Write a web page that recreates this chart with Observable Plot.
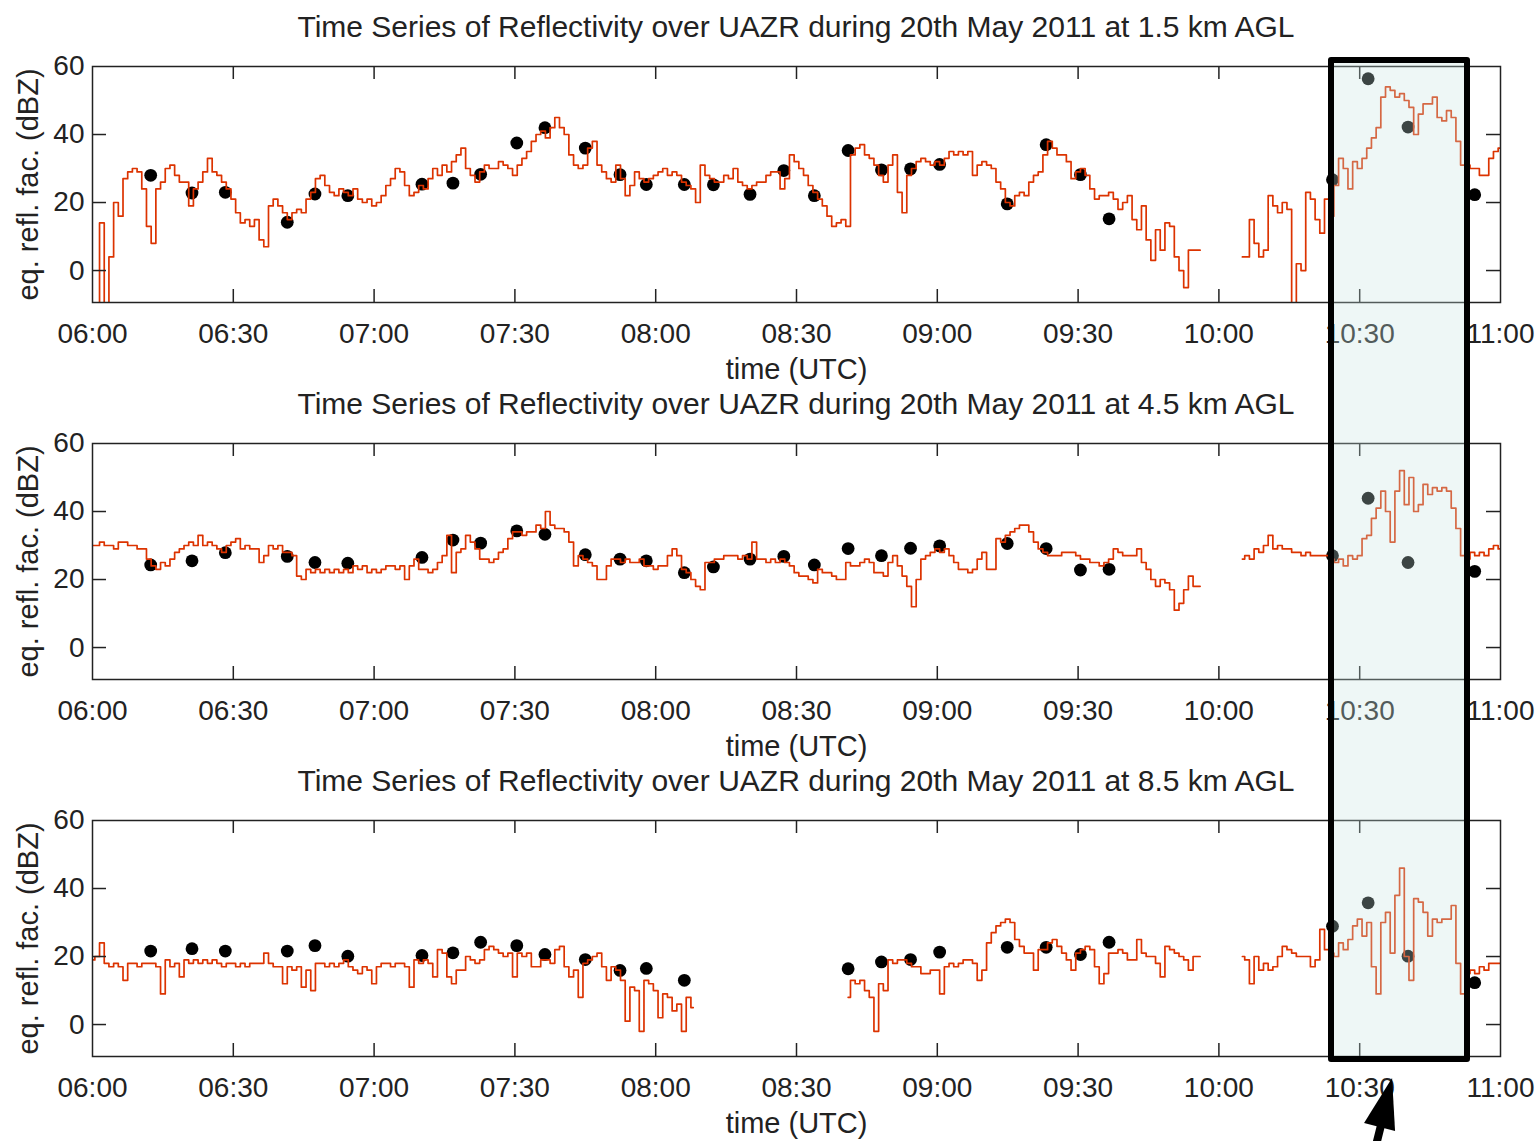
<!DOCTYPE html>
<html><head><meta charset="utf-8">
<script src="https://cdn.jsdelivr.net/npm/d3@7"></script>
<script src="https://cdn.jsdelivr.net/npm/@observablehq/plot@0.6"></script>
<style>
body{margin:0;background:#fff;}
#root{position:relative;width:1539px;height:1141px;overflow:hidden;font-family:"Liberation Sans",Arial,sans-serif;color:#222;background:#fff;}
.title{position:absolute;left:92px;width:1408px;text-align:center;font-size:30px;line-height:30px;height:30px;white-space:nowrap;color:#222;}
#box{position:absolute;box-sizing:border-box;border:6px solid #000;border-radius:3px;background:rgba(200,228,226,0.3);pointer-events:none;}
#arrow{position:absolute;left:0;top:0;pointer-events:none;}
</style></head><body><div id="root"></div>
<script>
const panelTitles = [
  "Time Series of Reflectivity over UAZR during 20th May 2011 at 1.5 km AGL",
  "Time Series of Reflectivity over UAZR during 20th May 2011 at 4.5 km AGL",
  "Time Series of Reflectivity over UAZR during 20th May 2011 at 8.5 km AGL"
];
const yLabel = "eq. refl. fac. (dBZ)";
const xLabel = "time (UTC)";
const xTickMinutes = [0, 30, 60, 90, 120, 150, 180, 210, 240, 270, 300];
const xTickLabels = ["06:00","06:30","07:00","07:30","08:00","08:30","09:00","09:30","10:00","10:30","11:00"];
const yTicks = [0, 20, 40, 60];
const yDomain = [-9.4, 60];

// reflectivity, one value per minute after 06:00 (index = minutes)
const refl15 = [
  null, -12, 14, -12, 4, 20, 16, 27, 29, 30,
  29, 24, 13, 8, 24, 26, 30, 31, 28, 26,
  26, 19, 24, 26, 29, 33, 29, 28, 26, 24,
  21, 17, 14, 15, 13, 15, 9, 7, 19, 21,
  19, 17, 15, 17, 18, 17, 21, 23, 27, 28,
  25, 23, 22, 24, 23, 22, 24, 21, 20, 21,
  19, 20, 22, 25, 27, 30, 29, 25, 22, 23,
  25, 24, 27, 30, 28, 31, 29, 32, 34, 36,
  30, 28, 26, 29, 31, 30, 30, 32, 31, 30,
  28, 31, 33, 35, 38, 40, 41, 39, 42, 45,
  42, 40, 34, 31, 30, 31, 36, 38, 31, 29,
  27, 26, 31, 27, 22, 25, 29, 27, 26, 27,
  28, 29, 30, 28, 29, 28, 26, 25, 24, 20,
  31, 28, 27, 26, 26, 28, 27, 30, 26, 25,
  24, 25, 26, 26, 28, 29, 29, 24, 27, 34,
  32, 30, 28, 25, 23, 21, 19, 16, 13, 14,
  15, 13, 34, 36, 37, 34, 33, 31, 28, 26,
  31, 34, 23, 17, 28, 30, 32, 33, 32, 31,
  32, 31, 33, 35, 34, 35, 34, 35, 28, 31,
  32, 31, 30, 26, 24, 20, 19, 22, 23, 22,
  26, 28, 29, 34, 38, 36, 34, 34, 32, 27,
  29, 30, 28, 24, 21, 22, 22, 23, 21, 18,
  20, 22, 15, 12, 19, 9, 3, 12, 6, 14,
  13, 4, 0, -5, 6, 6, 6, null, null, null,
  null, null, null, null, null, 4, 4, 15, 8, 4,
  6, 22, 19, 17, 20, 18, -10, 2, 0, 23,
  21, 15, 11, 21, 16, 25, 33, 30, 24, 32,
  30, 33, 36, 39, 42, 51, 54, 53, 51, 52,
  50, 48, 40, 46, 49, 49, 51, 45, 44, 47,
  45, 38, 31, 31, 30, 30, 28, 28, 33, 35,
  36
];
const refl45 = [
  30, 30, 31, 30, 30, 29, 31, 31, 30, 30,
  29, 29, 26, 24, 23, 25, 24, 26, 28, 29,
  30, 31, 30, 33, 30, 31, 30, 29, 28, 30,
  31, 32, 29, 30, 29, 29, 25, 27, 30, 29,
  30, 28, 28, 27, 21, 20, 23, 22, 23, 22,
  23, 22, 23, 22, 23, 22, 24, 23, 24, 22,
  23, 22, 23, 24, 24, 23, 24, 20, 24, 26,
  23, 23, 22, 23, 25, 27, 33, 22, 28, 29,
  33, 31, 29, 26, 26, 25, 26, 28, 29, 32,
  34, 34, 33, 34, 34, 36, 35, 40, 36, 35,
  35, 34, 31, 24, 27, 26, 25, 24, 20, 20,
  24, 26, 26, 25, 26, 25, 25, 26, 24, 24,
  23, 24, 24, 27, 29, 27, 23, 22, 20, 18,
  17, 25, 25, 26, 26, 27, 27, 27, 26, 27,
  26, 31, 26, 26, 25, 26, 25, 26, 25, 24,
  22, 21, 21, 20, 19, 23, 22, 22, 21, 20,
  20, 25, 24, 24, 25, 26, 25, 22, 22, 21,
  25, 27, 24, 21, 18, 12, 20, 26, 27, 28,
  29, 28, 29, 27, 25, 23, 23, 22, 23, 26,
  28, 23, 23, 32, 31, 33, 34, 35, 36, 36,
  34, 31, 29, 28, 27, 27, 27, 28, 28, 28,
  27, 26, 26, 25, 25, 24, 25, 26, 29, 28,
  27, 27, 27, 29, 25, 23, 20, 18, 20, 19,
  17, 11, 13, 17, 21, 18, 18, null, null, null,
  null, null, null, null, null, 26, 27, 26, 29, 28,
  30, 33, 29, 30, 29, 29, 28, 28, 27, 28,
  27, 27, 27, 27, 26, 25, 26, 24, 27, 26,
  27, 32, 33, 38, 41, 46, 40, 31, 46, 52,
  42, 50, 40, 42, 48, 45, 47, 46, 47, 46,
  41, 35, 27, 26, 28, 27, 28, 27, 29, 30,
  29
];
const refl85 = [
  19, 20, 24, 18, 17, 18, 17, 13, 18, 18,
  17, 18, 18, 18, 17, 9, 19, 17, 18, 14,
  19, 18, 19, 18, 19, 18, 19, 18, 17, 18,
  18, 17, 18, 17, 18, 18, 18, 21, 18, 17,
  17, 12, 17, 16, 17, 11, 16, 10, 18, 18,
  17, 18, 17, 18, 19, 17, 16, 15, 17, 16,
  12, 17, 18, 18, 17, 18, 18, 17, 11, 19,
  18, 19, 18, 14, 22, 21, 14, 12, 16, 16,
  20, 19, 18, 19, 22, 23, 22, 21, 20, 21,
  14, 21, 20, 21, 17, 17, 19, 19, 18, 22,
  23, 17, 14, 16, 8, 18, 19, 20, 21, 17,
  13, 17, 16, 13, 1, 11, 10, -2, 13, 12,
  10, 2, 9, 8, 4, 6, -2, 8, 5, null,
  null, null, null, null, null, null, null, null, null, null,
  null, null, null, null, null, null, null, null, null, null,
  null, null, null, null, null, null, null, null, null, null,
  null, 8, 13, 12, 13, 10, 8, -2, 12, 10,
  19, 18, 19, 19, 18, 17, 17, 15, 15, 16,
  16, 9, 17, 18, 17, 18, 19, 19, 18, 13,
  16, 24, 27, 29, 30, 31, 30, 25, 23, 21,
  21, 16, 22, 22, 24, 25, 23, 21, 19, 16,
  21, 22, 23, 22, 17, 12, 15, 21, 21, 22,
  21, 19, 19, 25, 21, 20, 20, 18, 14, 23,
  22, 21, 20, 19, 16, 20, 20, null, null, null,
  null, null, null, null, null, 20, 19, 12, 20, 16,
  18, 16, 17, 20, 23, 22, 21, 20, 20, 20,
  17, 19, 28, 22, 21, 20, 24, 22, 25, 29,
  31, 26, 30, 17, 9, 30, 33, 21, 38, 46,
  20, 13, 37, 36, 33, 26, 31, 30, 31, 31,
  35, 18, 9, 15, 16, 15, 17, 16, 18, 18,
  18
];

// black dots (minutes after 06:00)
const dotMinutes = [12.4, 21.2, 28.3, 41.5, 47.4, 54.4, 70.2, 76.8, 82.7, 90.4, 96.4, 105.0, 112.4, 118.0, 126.1, 132.3, 140.1, 147.3, 153.8, 161.0, 168.1, 174.3, 180.5, 194.9, 203.2, 210.5, 216.6, 264.2, 271.8, 280.3, 294.5];
const dots15 = [28, 22.8, 23, 14.2, 22.5, 22, 25.4, 25.7, 28.3, 37.5, 42, 36, 28.2, 25.3, 25.3, 25.2, 22.4, 29.4, 22, 35.3, 29.6, 29.9, 31.2, 19.6, 37, 28.2, 15.2, 26.7, 56.4, 42.2, 22.3];
const dots45 = [24.3, 25.5, 27.9, 26.8, 25, 24.8, 26.5, 31.6, 30.7, 34.3, 33.3, 27.3, 26, 25.5, 22, 23.7, 26, 26.8, 24.3, 29.1, 27, 29.2, 29.9, 30.6, 29.1, 22.8, 23, 27, 43.9, 25, 22.4];
const dots85 = [21.6, 22.3, 21.6, 21.6, 23.2, 20.1, 20.3, 21.1, 24.2, 23.2, 20.6, 19.1, 15.9, 16.5, 13, null, null, null, null, 16.4, 18.4, 19.1, 21.3, 22.7, 22.7, 20.6, 24.2, 28.9, 35.8, 20.1, 12.3];

const highlight = [264, 293];   // 10:24 – 10:53
const arrowMinute = 277;

const series = [refl15, refl45, refl85];
const dotSeries = [dots15, dots45, dots85];
const panelTop = [0, 377, 754];
const W = 1539, H = 332, mL = 92, mR = 39, mT = 21, mB = 75;
const tickLenY = 13 / (236 / (yDomain[1] - yDomain[0]));
const tickLenX = 14 / (1408 / 300);

const root = document.getElementById("root");
let xs = null;

series.forEach((vals, i) => {
  const line = vals.map((v, k) => ({t: k, v}));
  const dots = dotMinutes.map((t, k) => ({t, v: dotSeries[i][k]})).filter(d => d.v != null);
  const title = document.createElement("div");
  title.className = "title";
  title.style.top = (panelTop[i] + 12) + "px";
  title.textContent = panelTitles[i];
  root.appendChild(title);

  const inner = xTickMinutes.slice(1, -1);
  const innerY = yTicks.slice(0, 3);
  const plot = Plot.plot({
    width: W, height: H,
    marginLeft: mL, marginRight: mR, marginTop: mT, marginBottom: mB,
    style: {fontFamily: "Liberation Sans, Arial, sans-serif", fontSize: "28px", color: "#222", background: "transparent", overflow: "visible"},
    x: {domain: [0, 300], ticks: xTickMinutes, tickFormat: d => xTickLabels[xTickMinutes.indexOf(d)], tickSize: 0, tickPadding: 21, label: null},
    y: {domain: yDomain, ticks: yTicks, tickSize: 0, tickPadding: 8, label: null},
    marks: [
      Plot.dot(dots, {x: "t", y: "v", r: 6.4, fill: "#000", stroke: "none"}),
      Plot.line(line, {x: "t", y: "v", stroke: "#dc3300", strokeWidth: 1.7, curve: "step", clip: true}),
      Plot.frame({stroke: "#222", strokeWidth: 1.5}),
      Plot.ruleX(inner, {x: d => d, y1: yDomain[0], y2: yDomain[0] + tickLenY, stroke: "#222", strokeWidth: 1.5}),
      Plot.ruleX(inner, {x: d => d, y1: yDomain[1], y2: yDomain[1] - tickLenY, stroke: "#222", strokeWidth: 1.5}),
      Plot.ruleY(innerY, {y: d => d, x1: 0, x2: tickLenX, stroke: "#222", strokeWidth: 1.5}),
      Plot.ruleY(innerY, {y: d => d, x1: 300, x2: 300 - tickLenX, stroke: "#222", strokeWidth: 1.5}),
      Plot.text([yLabel], {text: d => d, frameAnchor: "left", textAnchor: "middle", lineAnchor: "middle", dx: -64, rotate: -90, fontSize: 29, fill: "#222"}),
      Plot.text([xLabel], {text: d => d, frameAnchor: "bottom", textAnchor: "middle", lineAnchor: "middle", dy: 67, fontSize: 29, fill: "#222"})
    ]
  });
  plot.style.position = "absolute";
  plot.style.left = "0px";
  plot.style.top = (panelTop[i] + 45) + "px";
  root.appendChild(plot);
  if (!xs) xs = plot.scale("x");
});

const xpx = t => xs.range[0] + (t - xs.domain[0]) / (xs.domain[1] - xs.domain[0]) * (xs.range[1] - xs.range[0]);

// highlight box spanning the three panels
const box = document.createElement("div");
box.id = "box";
const bx0 = xpx(highlight[0]) - 3, bx1 = xpx(highlight[1]) + 3;
const by0 = panelTop[0] + 45 + mT - 9, by1 = panelTop[2] + 45 + H - mB + 6;
box.style.left = bx0 + "px";
box.style.width = (bx1 - bx0) + "px";
box.style.top = by0 + "px";
box.style.height = (by1 - by0) + "px";
root.appendChild(box);

// arrow
const tx = xpx(arrowMinute), ty = panelTop[2] + 45 + H - mB + 22;
const svgNS = "http://www.w3.org/2000/svg";
const asvg = document.createElementNS(svgNS, "svg");
asvg.setAttribute("id", "arrow");
asvg.setAttribute("width", W);
asvg.setAttribute("height", 1141);
const shaft = document.createElementNS(svgNS, "line");
shaft.setAttribute("x1", tx - 18); shaft.setAttribute("y1", ty + 75);
shaft.setAttribute("x2", tx - 8); shaft.setAttribute("y2", ty + 35);
shaft.setAttribute("stroke", "#000"); shaft.setAttribute("stroke-width", 8);
asvg.appendChild(shaft);
const head = document.createElementNS(svgNS, "polygon");
head.setAttribute("points", `${tx},${ty} ${tx - 28},${ty + 45} ${tx + 3},${ty + 53}`);
head.setAttribute("fill", "#000");
asvg.appendChild(head);
root.appendChild(asvg);
</script></body></html>
